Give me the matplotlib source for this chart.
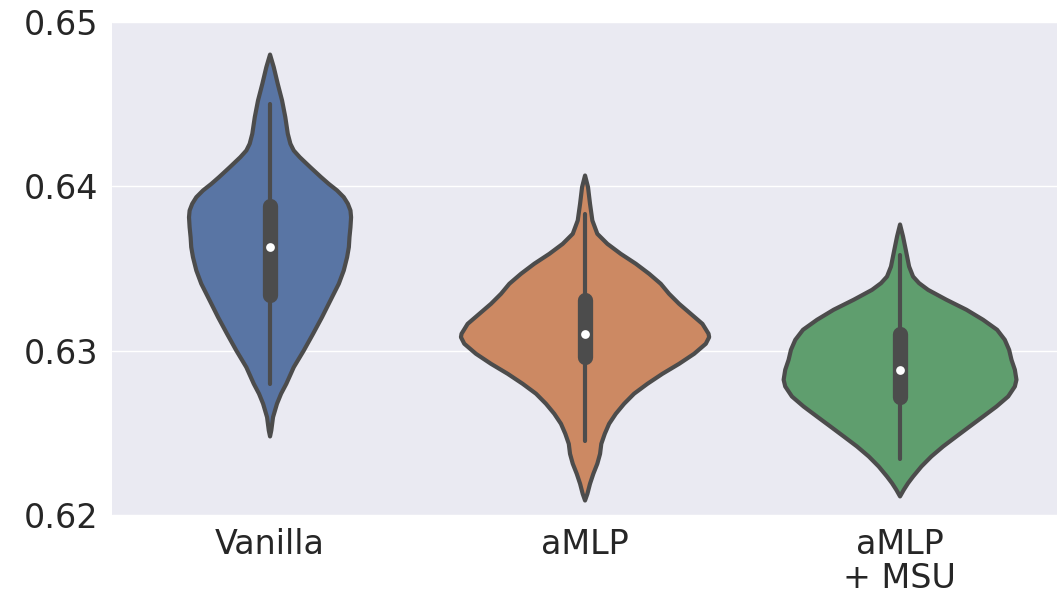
import numpy as np
import matplotlib
matplotlib.use("Agg")
import matplotlib.pyplot as plt
import seaborn as sns

models = ["Vanilla", "aMLP", "aMLP\n+ MSU"]
colors = ["#5975a4", "#cc8963", "#5f9e6e"]

# kde profiles per model: score grid and relative density (peak = 1)
vanilla_y = [0.64805, 0.64728, 0.64627, 0.64525, 0.64424, 0.64323, 0.64262, 0.64221,
             0.64180, 0.64119, 0.64059, 0.64018, 0.63978, 0.63937, 0.63897, 0.63856,
             0.63815, 0.63754, 0.63693, 0.63633, 0.63572, 0.63491, 0.63410, 0.63308,
             0.63207, 0.63106, 0.63004, 0.62902, 0.62801, 0.62741, 0.62680, 0.62598,
             0.62517, 0.62481]
vanilla_d = [0.0, 0.030, 0.062, 0.097, 0.123, 0.143, 0.164, 0.191,
             0.240, 0.325, 0.411, 0.473, 0.540, 0.594, 0.627, 0.648,
             0.653, 0.648, 0.640, 0.635, 0.621, 0.594, 0.554, 0.486,
             0.419, 0.347, 0.272, 0.191, 0.131, 0.089, 0.056, 0.024,
             0.010, 0.0]

amlp_y = [0.64069, 0.63998, 0.63897, 0.63795, 0.63714, 0.63653, 0.63592, 0.63532,
          0.63471, 0.63410, 0.63349, 0.63288, 0.63227, 0.63166, 0.63106, 0.63085,
          0.63045, 0.62984, 0.62923, 0.62862, 0.62801, 0.62741, 0.62680, 0.62619,
          0.62558, 0.62497, 0.62436, 0.62375, 0.62315, 0.62254, 0.62193, 0.62132,
          0.62091]
amlp_d = [0.0, 0.024, 0.040, 0.059, 0.099, 0.180, 0.288, 0.409,
          0.516, 0.610, 0.677, 0.758, 0.852, 0.946, 0.995, 1.0,
          0.973, 0.879, 0.758, 0.623, 0.502, 0.395, 0.315, 0.248,
          0.194, 0.159, 0.131, 0.121, 0.099, 0.067, 0.040, 0.019,
          0.0]

msu_y = [0.63771, 0.63698, 0.63617, 0.63515, 0.63454, 0.63414, 0.63373, 0.63313,
         0.63252, 0.63191, 0.63130, 0.63069, 0.63008, 0.62947, 0.62887, 0.62826,
         0.62785, 0.62724, 0.62663, 0.62602, 0.62542, 0.62481, 0.62420, 0.62359,
         0.62298, 0.62237, 0.62197, 0.62156, 0.62116]
msu_d = [0.0, 0.024, 0.046, 0.073, 0.105, 0.153, 0.226, 0.373,
         0.535, 0.669, 0.782, 0.844, 0.879, 0.898, 0.925, 0.938,
         0.925, 0.871, 0.777, 0.669, 0.562, 0.454, 0.347, 0.252,
         0.172, 0.105, 0.065, 0.030, 0.0]

medians = [0.6363, 0.6310, 0.6288]
q1 = [0.6334, 0.6296, 0.6272]
q3 = [0.6388, 0.6331, 0.6310]
whisk_lo = [0.6280, 0.6245, 0.6234]
whisk_hi = [0.6450, 0.6383, 0.6358]

profiles = [(vanilla_y, vanilla_d), (amlp_y, amlp_d), (msu_y, msu_d)]

sns.set_theme(style="darkgrid")
gray = "#4c4c4c"

fig = plt.figure(figsize=(10.63, 5.95), dpi=100)
ax = fig.add_axes([0.1054, 0.1345, 0.8890, 0.8285])

half = 0.394
for i, (ys, ds) in enumerate(profiles):
    ys = np.asarray(ys)
    ds = np.asarray(ds) * half
    ax.fill_betweenx(ys, i - ds, i + ds, facecolor=colors[i], edgecolor=gray,
                     linewidth=3, joinstyle="round", zorder=2)
    ax.plot([i, i], [whisk_lo[i], whisk_hi[i]], color=gray, lw=3,
            solid_capstyle="round", zorder=3)
    ax.plot([i, i], [q1[i], q3[i]], color=gray, lw=11,
            solid_capstyle="round", zorder=3)
    ax.plot(i, medians[i], "o", color="white", markersize=6.3,
            markeredgewidth=0, zorder=4)

ax.set_xlim(-0.5, 2.5)
ax.set_ylim(0.62, 0.65)
ax.set_yticks([0.62, 0.63, 0.64, 0.65])
ax.set_yticklabels(["0.62", "0.63", "0.64", "0.65"])
ax.set_xticks(range(len(models)))
ax.set_xticklabels(models, linespacing=1.05)
ax.xaxis.grid(False)
ax.tick_params(axis="y", labelsize=24, pad=10, length=0)
ax.tick_params(axis="x", labelsize=24, pad=9.5, length=0)
for s in ax.spines.values():
    s.set_visible(False)

fig.savefig("out.png", dpi=100)
